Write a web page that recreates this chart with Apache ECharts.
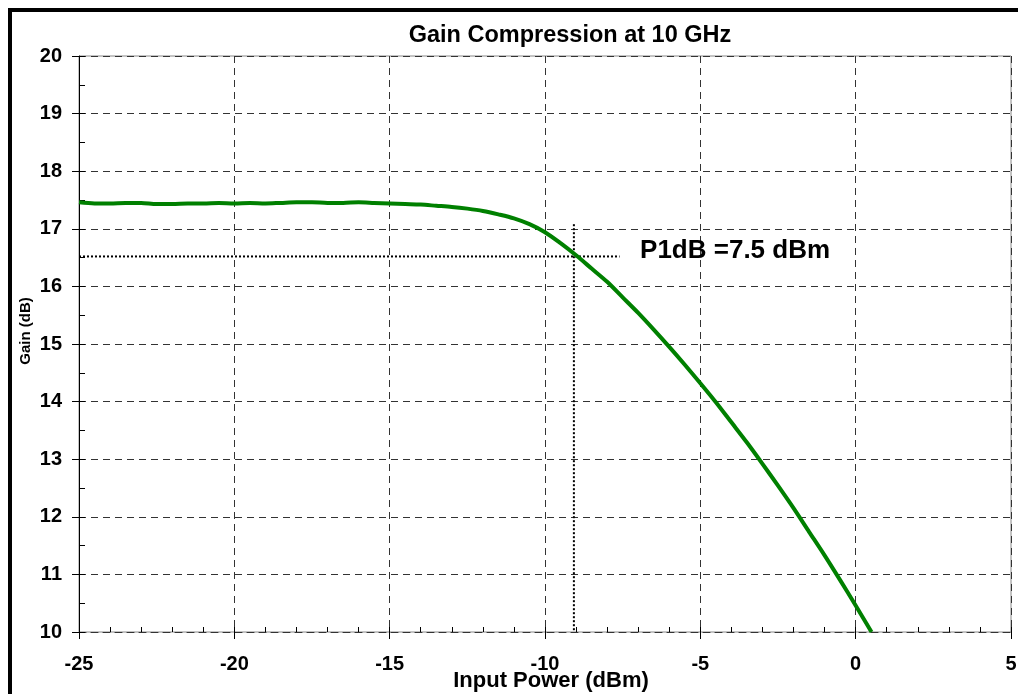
<!DOCTYPE html>
<html>
<head>
<meta charset="utf-8">
<script src="https://cdn.jsdelivr.net/npm/echarts@6/dist/echarts.min.js"></script>
<style>
html,body{margin:0;padding:0;background:#fff;}
#chart{width:1018px;height:694px;}
</style>
</head>
<body>
<div id="chart"></div>
<script>
// Input power (dBm)
const inputPower = [-25,-24.5,-24,-23.5,-23,-22.5,-22,-21.5,-21,-20.5,-20,-19.5,-19,-18.5,-18,-17.5,-17,-16.5,-16,-15.5,-15,-14.5,-14,-13.5,-13,-12.5,-12,-11.5,-11,-10.5,-10,-9.5,-9,-8.5,-8,-7.5,-7,-6.5,-6,-5.5,-5,-4.5,-4,-3.5,-3,-2.5,-2,-1.5,-1,-0.5,0,0.51];
// Gain (dB)
const gain = [17.46,17.44,17.44,17.45,17.45,17.43,17.43,17.44,17.44,17.45,17.44,17.45,17.44,17.45,17.46,17.46,17.45,17.45,17.46,17.45,17.44,17.43,17.42,17.40,17.38,17.35,17.31,17.25,17.18,17.08,16.94,16.75,16.54,16.31,16.08,15.81,15.54,15.25,14.95,14.64,14.32,13.99,13.64,13.29,12.92,12.54,12.15,11.74,11.33,10.90,10.46,10.0];
// P1dB marker lines
const p1dbHorizontal = [[-25,16.52],[-7.6,16.52]];
const p1dbVertical = [[-9.07,17.08],[-9.07,10]];
const annotationPoint = [[-6.94,16.62]];
const annotationText = 'P1dB =7.5 dBm';
const titleText = 'Gain Compression at 10 GHz';
const xName = 'Input Power (dBm)';
const yName = 'Gain (dB)';

const FONT = 'Liberation Sans, Arial, sans-serif';
const curve = inputPower.map((x,i)=>[x,gain[i]]);

const chart = echarts.init(document.getElementById('chart'));
chart.setOption({
  animation:false,
  backgroundColor:'#fff',
  title:{text:titleText,left:565,top:19,textAlign:'center',
    textStyle:{fontFamily:FONT,fontWeight:'bold',fontSize:23.5,color:'#000'}},
  grid:{left:79,top:56,right:7,bottom:62,show:true,borderColor:'#888',borderWidth:1,
    backgroundColor:'transparent',containLabel:false,outerBoundsMode:'none'},
  graphic:[{type:'rect',shape:{x:10,y:10,width:1030,height:700},style:{fill:'none',stroke:'#000',lineWidth:4},z:100}],
  xAxis:[{
    type:'value',min:-25,max:5,interval:5,position:'bottom',
    name:xName,nameLocation:'middle',nameGap:38,nameMoveOverlap:false,
    nameTextStyle:{fontFamily:FONT,fontWeight:'bold',fontSize:22,color:'#000',padding:[0,0,0,12]},
    axisLine:{show:true,onZero:false,lineStyle:{color:'#333',width:1,type:[7,5]}},
    axisTick:{show:true,length:7,lineStyle:{color:'#000'}},
    axisLabel:{margin:22,fontFamily:FONT,fontWeight:'bold',fontSize:20,color:'#000'},
    splitLine:{show:true,lineStyle:{color:'#333',width:1,type:[7,5]}}
  },{
    type:'value',min:-25,max:5,interval:1,position:'bottom',
    axisLine:{show:false,onZero:false},axisLabel:{show:false},splitLine:{show:false},
    axisTick:{show:true,inside:true,length:5,lineStyle:{color:'#000'}}
  }],
  yAxis:[{
    type:'value',min:10,max:20,interval:1,position:'left',
    name:yName,nameLocation:'middle',nameGap:46,nameRotate:90,nameMoveOverlap:false,
    nameTextStyle:{fontFamily:FONT,fontWeight:'bold',fontSize:15,color:'#000',padding:[0,0,0,26]},
    axisLine:{show:true,onZero:false,lineStyle:{color:'#000',width:1}},
    axisTick:{show:true,length:7,lineStyle:{color:'#000'}},
    axisLabel:{margin:17,fontFamily:FONT,fontWeight:'bold',fontSize:20,color:'#000'},
    splitLine:{show:true,lineStyle:{color:'#333',width:1,type:[7,5]}}
  },{
    type:'value',min:10,max:20,interval:0.5,position:'left',
    axisLine:{show:false,onZero:false},axisLabel:{show:false},splitLine:{show:false},
    axisTick:{show:true,inside:true,length:6,lineStyle:{color:'#000'}}
  }],
  series:[{
    type:'line',data:curve,showSymbol:false,smooth:0.3,
    lineStyle:{color:'#008000',width:4},z:5
  },{
    type:'line',data:p1dbHorizontal,showSymbol:false,
    lineStyle:{color:'#000',width:2,type:[2,2]},z:4
  },{
    type:'line',data:p1dbVertical,showSymbol:false,
    lineStyle:{color:'#000',width:2,type:[2,2]},z:4
  },{
    type:'scatter',data:annotationPoint,symbolSize:0,itemStyle:{opacity:1},
    label:{show:true,position:'right',distance:0,formatter:annotationText,opacity:1,
      fontFamily:FONT,fontWeight:'bold',fontSize:26,color:'#000'},z:6
  }]
});
</script>
</body>
</html>
